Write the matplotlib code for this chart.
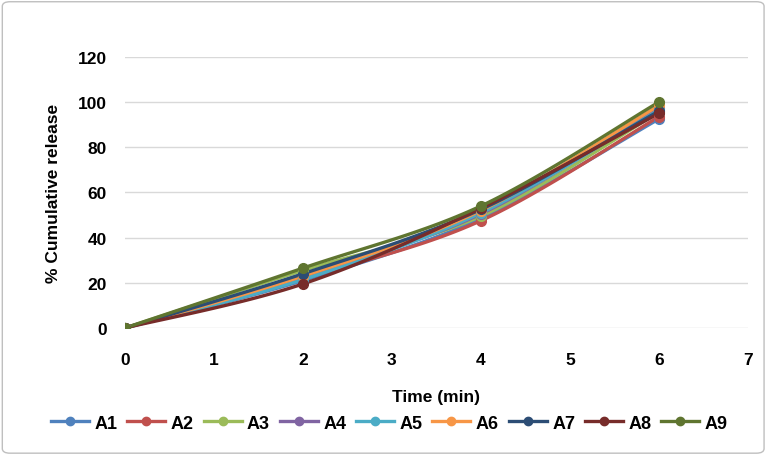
import numpy as np
import matplotlib
matplotlib.use("Agg")
import matplotlib.pyplot as plt
from matplotlib.patches import FancyBboxPatch

time = [0, 2, 4, 6]
series_names = ["A1", "A2", "A3", "A4", "A5", "A6", "A7", "A8", "A9"]
A1 = [0, 21.0, 48.5, 92.5]
A2 = [0, 22.0, 47.5, 93.5]
A3 = [0, 25.5, 49.5, 95.5]
A4 = [0, 23.0, 50.5, 97.5]
A5 = [0, 21.5, 51.0, 96.5]
A6 = [0, 23.0, 52.0, 98.5]
A7 = [0, 24.0, 52.5, 96.0]
A8 = [0, 19.5, 53.0, 95.0]
A9 = [0, 26.5, 54.0, 100.0]
values = [A1, A2, A3, A4, A5, A6, A7, A8, A9]
colors = ["#4F81BD", "#C0504D", "#9BBB59", "#8064A2", "#4BACC6",
          "#F79646", "#2C4D75", "#772C2A", "#5F7530"]
x_ticks = [0, 1, 2, 3, 4, 5, 6, 7]
y_ticks = [0, 20, 40, 60, 80, 100, 120]


def smooth(xs, ys, n=30):
    xs = np.asarray(xs, float)
    ys = np.asarray(ys, float)
    px = np.concatenate([[xs[0]], xs, [xs[-1]]])
    py = np.concatenate([[ys[0]], ys, [ys[-1]]])
    ox, oy = [], []
    for i in range(1, len(px) - 2):
        p0 = np.array([px[i], py[i]])
        p3 = np.array([px[i + 1], py[i + 1]])
        c1 = p0 + (np.array([px[i + 1], py[i + 1]]) - np.array([px[i - 1], py[i - 1]])) / 6
        c2 = p3 - (np.array([px[i + 2], py[i + 2]]) - np.array([px[i], py[i]])) / 6
        t = np.linspace(0, 1, n)[:, None]
        b = ((1 - t) ** 3) * p0 + 3 * ((1 - t) ** 2) * t * c1 + 3 * (1 - t) * t ** 2 * c2 + t ** 3 * p3
        ox.extend(b[:, 0])
        oy.extend(b[:, 1])
    return ox, oy


plt.rcParams['font.family'] = ['Liberation Sans', 'DejaVu Sans']
fig = plt.figure(figsize=(7.71, 4.56), dpi=100)
fig.patches.append(FancyBboxPatch((0.003, 0.004), 0.988, 0.990, boxstyle="round,pad=0,rounding_size=0.01",
                                  transform=fig.transFigure, fill=False, edgecolor="#BFBFBF", linewidth=1.0))
ax = fig.add_axes([0.162, 0.2785, 0.808, 0.5945])

for name, vals, c in zip(series_names, values, colors):
    sx, sy = smooth(time, vals)
    ax.plot(sx, sy, color=c, linewidth=2.4, solid_capstyle="round", zorder=2)
    ax.plot(time, vals, linestyle="none", marker="o", markersize=7, color=c, zorder=3)
    ax.plot([], [], color=c, linewidth=2.4, marker="o", markersize=6, label=name)

ax.set_xlim(0, 7)
ax.set_ylim(0, 120)
ax.set_xticks(x_ticks)
ax.set_yticks(y_ticks)
ax.grid(axis="y", color="#D9D9D9", linewidth=1.0)
ax.set_axisbelow(True)
for s in ax.spines.values():
    s.set_visible(False)
ax.tick_params(length=0, labelsize=12.5, pad=17)
ax.tick_params(axis="y", pad=13)
for lab in ax.get_xticklabels() + ax.get_yticklabels():
    lab.set_fontweight("bold")
ax.set_xlabel("Time (min)", fontsize=12.5, fontweight="bold", labelpad=16)
ax.set_ylabel("% Cumulative release", fontsize=12.5, fontweight="bold", labelpad=12)

leg = fig.legend(loc="center", bbox_to_anchor=(0.505, 0.07), ncol=9, frameon=False,
                 prop={"weight": "bold", "size": 13}, handlelength=2.1, handletextpad=0.3,
                 columnspacing=0.55)
fig.savefig("out.png", dpi=100)
